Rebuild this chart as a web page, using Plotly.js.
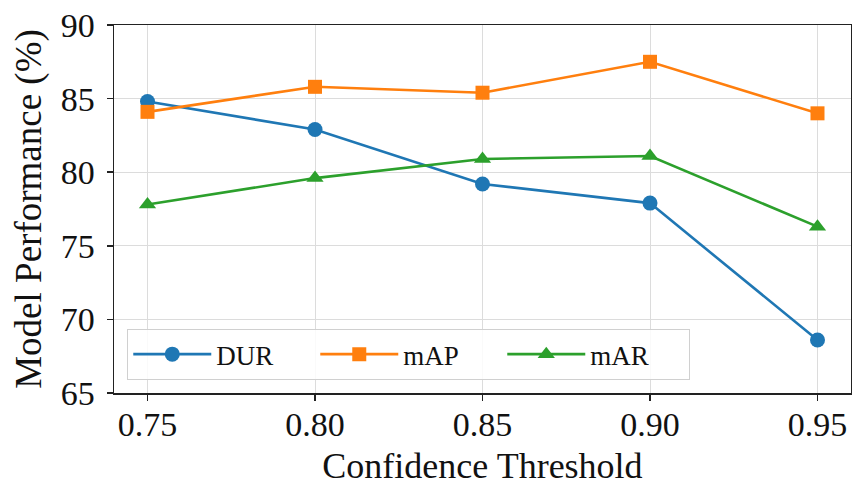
<!DOCTYPE html>
<html>
<head>
<meta charset="utf-8">
<script src="https://cdn.plot.ly/plotly-3.0.1.min.js"></script>
<style>html,body{margin:0;padding:0;background:#fff;}#chart{width:852px;height:486px;}</style>
</head>
<body>
<div id="chart"></div>
<script>
const thresholds = [0.75, 0.80, 0.85, 0.90, 0.95];
const durValues = [84.8, 82.9, 79.2, 77.9, 68.6];
const mapValues = [84.1, 85.8, 85.4, 87.5, 84.0];
const marValues = [77.8, 79.6, 80.9, 81.1, 76.3];
const xTickLabels = ['0.75', '0.80', '0.85', '0.90', '0.95'];
const yTickValues = [65, 70, 75, 80, 85, 90];

const FONT = '"Liberation Serif", "Times New Roman", serif';

function series(name, y, color, symbol, size) {
  return {
    x: thresholds, y: y, name: name, type: 'scatter', mode: 'lines+markers',
    line: {color: color, width: 2.6},
    marker: {color: color, symbol: symbol, size: size, line: {width: 0}}
  };
}

const data = [
  series('DUR', durValues, '#1f77b4', 'circle', 15),
  series('mAP', mapValues, '#ff7f0e', 'square', 14),
  series('mAR', marValues, '#2ca02c', 'triangle-up', 15)
];

const layout = {
  width: 852, height: 486,
  margin: {l: 114, r: 1, t: 25, b: 93},
  paper_bgcolor: '#fff', plot_bgcolor: '#fff',
  font: {family: FONT, color: '#111'},
  showlegend: true,
  legend: {
    orientation: 'h', x: 0.018, y: 0.035, xanchor: 'left', yanchor: 'bottom',
    bgcolor: 'rgba(255,255,255,0.85)', bordercolor: '#d0d0d0', borderwidth: 1,
    font: {family: FONT, size: 27, color: '#111'},
    entrywidth: 94, entrywidthmode: 'pixels', itemwidth: 78
  },
  xaxis: {
    range: [0.74, 0.96],
    tickvals: thresholds, ticktext: xTickLabels,
    ticks: 'outside', ticklen: 6, tickwidth: 1.5, tickcolor: '#222',
    ticklabelstandoff: -5,
    tickfont: {family: FONT, size: 34, color: '#111'},
    showgrid: true, gridcolor: '#dcdcdc', gridwidth: 1,
    showline: true, linecolor: '#222', linewidth: 1.5, mirror: true,
    zeroline: false,
    title: {text: 'Confidence Threshold', font: {family: FONT, size: 36, color: '#111'}, standoff: 10}
  },
  yaxis: {
    range: [65, 90],
    tickvals: yTickValues,
    ticks: 'outside', ticklen: 6, tickwidth: 1.5, tickcolor: '#222',
    ticklabelstandoff: 5,
    tickfont: {family: FONT, size: 34, color: '#111'},
    showgrid: true, gridcolor: '#dcdcdc', gridwidth: 1,
    showline: true, linecolor: '#222', linewidth: 1.5, mirror: true,
    zeroline: false,
    title: {text: 'Model Performance (%)', font: {family: FONT, size: 37, color: '#111'}, standoff: 8}
  }
};

Plotly.newPlot('chart', data, layout, {displayModeBar: false, staticPlot: true});
</script>
</body>
</html>
